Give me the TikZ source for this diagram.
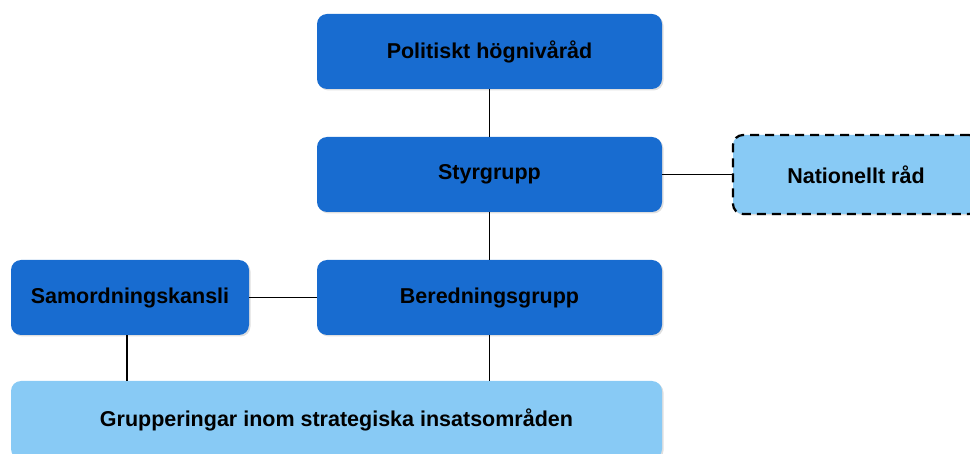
\documentclass[tikz,border=0pt]{standalone}
\usepackage{fontspec}
\setmainfont{Liberation Sans}
\usetikzlibrary{positioning,shadows}

\definecolor{mork}{RGB}{24,108,208}
\definecolor{ljus}{RGB}{136,202,245}

\begin{document}
\begin{tikzpicture}[
  x=1pt, y=-1pt,
  box/.style={rectangle, rounded corners=10pt, inner sep=0pt,
    minimum height=75pt, align=center,
    font=\bfseries\fontsize{21.5}{25}\selectfont,
    drop shadow={shadow xshift=1.5pt, shadow yshift=-1.5pt, opacity=0.25}},
  dark/.style={box, fill=mork},
  light/.style={box, fill=ljus},
  line/.style={black, line width=1.2pt}
]
\useasboundingbox (0,0) rectangle (970,454);
\clip (0,0) rectangle (970,454);

\node[dark, minimum width=345pt] (hog) at (489.5,51.5) {Politiskt högnivåråd};
\node[dark, minimum width=345pt] (styr) at (489.5,174.5) {Styrgrupp};
\node[dark, minimum width=345pt] (bered) at (489.5,297.5) {Beredningsgrupp};
\node[dark, minimum width=238pt] (samord) at (130,297.5) {Samordningskansli};
\node[light, minimum width=246pt, minimum height=79pt, draw=black,
  line width=2.2pt, dash pattern=on 9pt off 6pt] (nat) at (856,174.5) {Nationellt råd};
\node[light, minimum width=651pt, minimum height=78pt] (grupp) at (336.5,420)
  {Grupperingar inom strategiska insatsområden};

\draw[line] (hog) -- (styr);
\draw[line] (styr) -- (bered);
\draw[line] (styr) -- (nat);
\draw[line] (samord) -- (bered);
\draw[line] (bered.south) -- (bered.south |- grupp.north);
\draw[line] ([xshift=-3pt]samord.south) -- ([xshift=-3pt]samord.south |- grupp.north);

\end{tikzpicture}
\end{document}
